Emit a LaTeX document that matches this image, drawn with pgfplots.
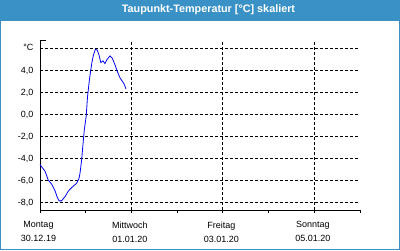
\documentclass[border=0pt]{standalone}
\usepackage{pgfplots}
\pgfplotsset{compat=1.18}
\usepackage{fontspec}
\setmainfont{Liberation Sans}
\definecolor{titlebar}{RGB}{58,145,198}
\definecolor{curveblue}{RGB}{0,0,240}
\begin{document}
\begin{tikzpicture}
\useasboundingbox (0pt,0pt) rectangle (400pt,250pt);
\fill[white] (0pt,0pt) rectangle (400pt,250pt);
\fill[titlebar] (0pt,229pt) rectangle (400pt,250pt);
\draw[titlebar,line width=1.2pt] (0.6pt,0.6pt) rectangle (399.4pt,249.4pt);
\node[text=white,font=\fontsize{10.8}{12}\selectfont\bfseries] at (208.5pt,240pt) {Taupunkt-Temperatur [°C] skaliert};
\begin{axis}[
  at={(40pt,40pt)}, anchor=south west,
  width=320pt, height=170pt, scale only axis,
  xmin=0, xmax=7, ymin=-8.73, ymax=6.75,
  axis x line=bottom, axis y line=left,
  axis line style={-, black, line width=0.9pt},
  xtick={0,2,4,6}, minor xtick={1,3,5,7},
  xticklabels={{Montag\\30.12.19},{Mittwoch\\01.01.20},{Freitag\\03.01.20},{Sonntag\\05.01.20}},
  xticklabel style={align=center, font=\fontsize{9}{14}\selectfont, yshift=-5pt, xshift=-1.5pt},
  ytick={-8,-6,-4,-2,0,2,4,6},
  yticklabels={{-8,0},{-6,0},{-4,0},{-2,0},{0,0},{2,0},{4,0},{\raisebox{3pt}{°C}}},
  yticklabel style={font=\fontsize{9}{11}\selectfont, yshift=-1pt},
  tick align=outside,
  major tick length=3pt, minor tick length=3pt,
  xtick style={black, line width=0.9pt},
  minor tick style={black, line width=0.9pt},
  ytick style={draw=none},
  xmajorgrids, ymajorgrids,
  major grid style={black, line width=0.9pt, dash pattern=on 3pt off 2pt},
  clip=false,
]
\addplot[curveblue, line width=0.8pt, mark=none] coordinates {
(0.0,-4.6) (0.02,-4.7) (0.11,-5.2) (0.18,-6.0) (0.26,-6.4) (0.33,-7.0) (0.38,-7.6)
(0.42,-7.9) (0.47,-7.9) (0.55,-7.5) (0.62,-7.0) (0.69,-6.7) (0.80,-6.3)
(0.85,-5.9) (0.875,-5.4) (0.91,-4.2) (0.95,-2.3) (0.97,-1.4) (1.01,-0.2)
(1.04,1.6) (1.08,3.1) (1.11,4.0) (1.14,4.8) (1.17,5.4) (1.21,5.9) (1.25,5.85)
(1.29,5.4) (1.33,4.7) (1.38,4.85) (1.42,4.6) (1.47,5.0) (1.53,5.3) (1.58,5.1)
(1.64,4.5) (1.69,3.9) (1.75,3.3) (1.80,3.0) (1.84,2.75) (1.88,2.3)
};
\draw[black, line width=0.9pt] (rel axis cs:0,1) -- ([xshift=6pt]rel axis cs:0,1);
\end{axis}
\end{tikzpicture}
\end{document}
